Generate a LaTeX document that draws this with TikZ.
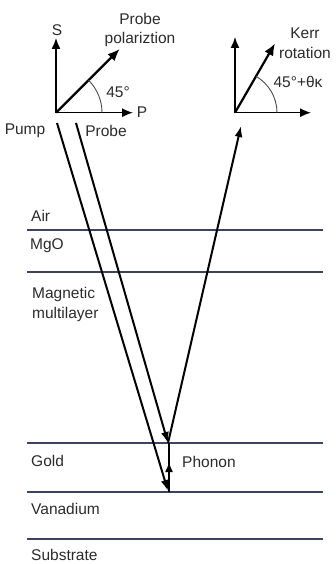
\documentclass[tikz,border=0pt]{standalone}
\usepackage{fontspec}
\setmainfont{Liberation Sans}
\usetikzlibrary{arrows.meta,calc}
\definecolor{txt}{HTML}{2B2B2B}
\definecolor{layerc}{HTML}{3B4262}
\begin{document}
\begin{tikzpicture}[x=1pt,y=-1pt,
  lbl/.style={font=\fontsize{15.5}{19.5}\selectfont, text=txt, inner sep=0pt},
  layer/.style={draw=layerc, line width=1.3pt},
  beam/.style={line width=2pt, -{Latex[length=11pt,width=8pt]}},
  axisarrow/.style={line width=1.4pt, -{Latex[length=11pt,width=9pt]}},
  polarrow/.style={line width=2.2pt, -{Latex[length=12pt,width=10pt]}},
  anglearc/.style={draw=black!70, line width=0.9pt}]
\useasboundingbox (0,0) rectangle (335,564);

% origins of the two polarisation frames
\coordinate (oL) at (56,112.7);
\coordinate (oR) at (235,112.7);
\coordinate (sTip) at (56,38);
\coordinate (pTip) at (133,112.7);
\coordinate (polTip) at ($(oL)+(-45:90)$);
\coordinate (rTipV) at (235,37);
\coordinate (rTipH) at (311,112.7);
\coordinate (kerrTip) at ($(oR)+(-60:80)$);

% left frame
\draw[axisarrow] (oL) -- (sTip);
\draw[axisarrow] (oL) -- (pTip);
\draw[polarrow] (oL) -- (polTip);
\draw[anglearc] (oL) ++(46,0) arc[start angle=0, end angle=-45, radius=46];
\node[lbl] (S) at (57,30) {S};
\node[lbl] (P) at (142,112) {P};
\node[lbl] (ang1) at (118,92) {45°};
\node[lbl, align=center] (pol) at (140,30) {Probe\\polariztion};

% right frame
\draw[axisarrow] (oR) -- (rTipV);
\draw[axisarrow] (oR) -- (rTipH);
\draw[polarrow] (oR) -- (kerrTip);
\draw[anglearc] (oR) ++(42,0) arc[start angle=0, end angle=-60, radius=42];
\node[lbl, align=center] (kerr) at (305,43) {Kerr\\rotation};
\node[lbl] (ang2) at (298,82) {45°+θκ};

% beam labels
\node[lbl] (pump) at (25,131) {Pump};
\node[lbl] (probe) at (106,131) {Probe};

% layer boundaries
\foreach \n/\yy in {a/230,b/272,c/443,d/492,e/539}{
  \coordinate (\n L) at (27,\yy);
  \coordinate (\n R) at (323,\yy);
  \draw[layer] (\n L) -- (\n R);
}

% layer labels
\node[lbl, anchor=west] (air) at (31,216) {Air};
\node[lbl, anchor=west] (mgo) at (30,246) {MgO};
\node[lbl, anchor=west, align=left] (mag) at (32,304.5) {Magnetic\\multilayer};
\node[lbl, anchor=west] (gold) at (31,461) {Gold};
\node[lbl, anchor=west] (vana) at (31,509) {Vanadium};
\node[lbl, anchor=west] (subs) at (31,555) {Substrate};
\node[lbl, anchor=west] (phon) at (182,462) {Phonon};

% beams
\coordinate (pumpStart) at (57,123);
\coordinate (pumpEnd) at (168,491);
\coordinate (probeStart) at (76,123);
\coordinate (probeEnd) at (168,443);
\coordinate (reflEnd) at (241,126);
\coordinate (phononBot) at (169,492);
\coordinate (phononTop) at (169,443);
\coordinate (phononMid) at (169,462);

\draw[beam] (pumpStart) -- (pumpEnd);
\draw[beam] (probeStart) -- (probeEnd);
\draw[beam] (probeEnd) -- (reflEnd);
\draw[line width=1.4pt] (phononBot) -- (phononTop);
\draw[line width=1.4pt, -{Latex[length=10pt,width=8pt]}] (phononBot) -- (phononMid);
\end{tikzpicture}
\end{document}
